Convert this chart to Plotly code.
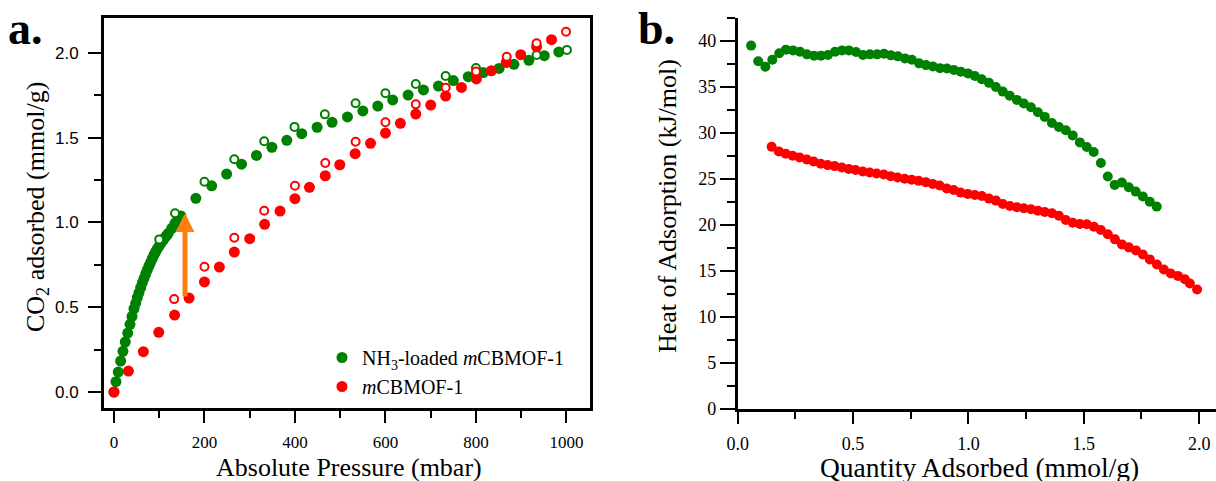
import plotly.graph_objects as go

# ---------------- Panel a: CO2 isotherms ----------------
nh3_ads_p = [0, 4.4, 9.5, 14.8, 19.9, 25.0, 30.3, 35.4, 39.8, 44.2,
             48.0, 51.5, 55.2, 59.0, 62.5, 66.3, 70.1, 73.6, 77.3, 81.1,
             84.6, 88.4, 92.2, 96, 100, 104, 108, 112, 116, 120,
             127.5, 135, 141, 148, 181, 216, 249, 282, 315, 349,
             382, 415, 449, 482, 516, 550, 583, 616, 650, 684,
             717, 750, 783, 816, 851, 884, 917, 951, 983]
nh3_ads_q = [0, .061, .118, .183, .240, .295, .348, .399, .446, .491,
             .523, .556, .585, .615, .643, .670, .696, .719, .743, .765,
             .786, .808, .827, .846, .862, .878, .893, .908, .922, .936,
             .965, .995, 1.018, 1.038, 1.142, 1.216, 1.285, 1.343, 1.395, 1.443,
             1.484, 1.523, 1.561, 1.590, 1.622, 1.657, 1.686, 1.722, 1.751, 1.781,
             1.804, 1.836, 1.859, 1.883, 1.908, 1.932, 1.956, 1.983, 2.005]
nh3_des_p = [100, 135, 200, 266, 332, 399, 466, 534, 600, 667, 733, 800, 867, 934, 1001]
nh3_des_q = [.900, 1.054, 1.240, 1.372, 1.478, 1.563, 1.637, 1.702, 1.761, 1.816,
             1.863, 1.910, 1.950, 1.987, 2.017]
mof_ads_p = [0, 32, 65, 99, 134, 166, 200, 233, 266, 300, 333, 367, 400, 432, 467,
             499, 533, 567, 600, 633, 667, 700, 733, 768, 801, 834, 867, 899, 934, 967]
mof_ads_q = [0, .124, .238, .352, .454, .554, .649, .737, .825, .904, .989, 1.067, 1.140,
             1.207, 1.275, 1.340, 1.405, 1.466, 1.527, 1.584, 1.639, 1.692, 1.745, 1.796,
             1.846, 1.894, 1.942, 1.989, 2.036, 2.077]
mof_des_p = [133, 200, 266, 332, 400, 467, 534, 600, 667, 733, 800, 868, 934, 999]
mof_des_q = [.548, .739, .910, 1.069, 1.216, 1.350, 1.476, 1.590, 1.696, 1.794,
             1.889, 1.977, 2.056, 2.124]

arrow_p = 157
arrow_from_q = 0.554
arrow_to_q = 1.054

# ---------------- Panel b: heat of adsorption ----------------
nh3_heat_x = [0.058, 0.089, 0.120, 0.150, 0.180, 0.209, 0.240, 0.270, 0.300, 0.331,
              0.361, 0.391, 0.422, 0.452, 0.482, 0.513, 0.543, 0.573, 0.604, 0.634,
              0.664, 0.694, 0.725, 0.755, 0.786, 0.816, 0.846, 0.877, 0.907, 0.937,
              0.967, 0.998, 1.028, 1.058, 1.089, 1.119, 1.149, 1.179, 1.210, 1.240,
              1.271, 1.301, 1.331, 1.362, 1.392, 1.422, 1.452, 1.483, 1.513, 1.543,
              1.574, 1.604, 1.634, 1.665, 1.695, 1.725, 1.756, 1.786, 1.816]
nh3_heat_y = [39.5, 37.8, 37.2, 37.97, 38.66, 39.06, 38.98, 38.84, 38.55, 38.41,
              38.41, 38.47, 38.84, 38.98, 38.98, 38.80, 38.47, 38.55, 38.55, 38.62,
              38.44, 38.33, 38.11, 37.97, 37.57, 37.38, 37.24, 37.05, 37.02, 36.84,
              36.66, 36.48, 36.2, 35.85, 35.45, 35.0, 34.5, 34.05, 33.6, 33.2,
              32.8, 32.26, 31.75, 31.09, 30.66, 30.29, 29.74, 28.98, 28.48, 27.93,
              26.73, 25.27, 24.36, 24.62, 24.11, 23.63, 23.09, 22.54, 22.0]
mof_heat_x = [0.147, 0.178, 0.208, 0.238, 0.268, 0.299, 0.329, 0.360, 0.390, 0.420,
              0.451, 0.481, 0.511, 0.542, 0.572, 0.602, 0.633, 0.663, 0.693, 0.724,
              0.754, 0.784, 0.815, 0.845, 0.875, 0.906, 0.936, 0.966, 0.997, 1.028,
              1.058, 1.089, 1.119, 1.149, 1.180, 1.210, 1.240, 1.271, 1.301, 1.331,
              1.362, 1.392, 1.422, 1.452, 1.483, 1.513, 1.544, 1.574, 1.604, 1.635,
              1.665, 1.695, 1.726, 1.756, 1.786, 1.817, 1.847, 1.877, 1.908, 1.938,
              1.960, 1.991]
mof_heat_y = [28.5, 28.0, 27.75, 27.53, 27.35, 27.13, 26.9, 26.65, 26.51, 26.4,
              26.25, 26.1, 25.97, 25.81, 25.7, 25.6, 25.49, 25.31, 25.16, 25.02,
              24.91, 24.8, 24.66, 24.47, 24.29, 23.96, 23.8, 23.52, 23.38, 23.27,
              23.16, 22.87, 22.65, 22.29, 22.07, 21.93, 21.82, 21.71, 21.56, 21.42,
              21.27, 21.01, 20.55, 20.25, 20.11, 20.08, 19.81, 19.45, 18.99, 18.44,
              17.89, 17.57, 17.24, 16.8, 16.26, 15.71, 15.17, 14.73, 14.47, 14.11,
              13.64, 12.98]

GREEN = "#008000"
RED = "#FF0000"
SERIF = "Liberation Serif, Times New Roman, serif"
SANS = "Liberation Sans, Arial, sans-serif"

fig = go.Figure()
fig.add_trace(go.Scatter(x=nh3_ads_p, y=nh3_ads_q, mode="markers", name="NH<sub>3</sub>-loaded <i>m</i>CBMOF-1",
                         marker=dict(color=GREEN, size=11), legendgroup="g", xaxis="x", yaxis="y"))
fig.add_trace(go.Scatter(x=nh3_des_p, y=nh3_des_q, mode="markers", showlegend=False,
                         marker=dict(color="white", size=8, line=dict(color=GREEN, width=2)),
                         xaxis="x", yaxis="y"))
fig.add_trace(go.Scatter(x=mof_ads_p, y=mof_ads_q, mode="markers", name="<i>m</i>CBMOF-1",
                         marker=dict(color=RED, size=11), legendgroup="r", xaxis="x", yaxis="y"))
fig.add_trace(go.Scatter(x=mof_des_p, y=mof_des_q, mode="markers", showlegend=False,
                         marker=dict(color="white", size=8, line=dict(color=RED, width=2)),
                         xaxis="x", yaxis="y"))
fig.add_trace(go.Scatter(x=nh3_heat_x, y=nh3_heat_y, mode="markers", showlegend=False,
                         marker=dict(color=GREEN, size=10), xaxis="x2", yaxis="y2"))
fig.add_trace(go.Scatter(x=mof_heat_x, y=mof_heat_y, mode="markers", showlegend=False,
                         marker=dict(color=RED, size=10), xaxis="x2", yaxis="y2"))

axis_common = dict(showgrid=False, zeroline=False, showline=True, linecolor="black",
                   ticks="outside", tickcolor="black", tickwidth=2, automargin=False)

def px_x(px):
    return px / 1216

def px_y(py):
    return (481 - py) / 481

fig.update_layout(
    width=1216, height=481,
    margin=dict(l=0, r=0, t=0, b=0, autoexpand=False),
    paper_bgcolor="white", plot_bgcolor="white",
    xaxis=dict(**axis_common, domain=[px_x(104), px_x(590)], range=[-22, 1052],
               tick0=0, dtick=200, ticklen=12, linewidth=3, mirror=True, ticklabelstandoff=5,
               minor=dict(dtick=100, ticklen=7, tickwidth=2, tickcolor="black", ticks="outside"),
               tickfont=dict(family=SERIF, size=17, color="black"),
               anchor="y"),
    yaxis=dict(**axis_common, domain=[px_y(408), px_y(18)], range=[-0.094, 2.205],
               tick0=0, dtick=0.5, tickformat=".1f", ticklen=13, linewidth=3, mirror=True,
               ticklabelstandoff=6,
               minor=dict(dtick=0.25, ticklen=7, tickwidth=2, tickcolor="black", ticks="outside"),
               tickfont=dict(family=SANS, size=17, color="black"),
               anchor="x"),
    xaxis2=dict(**axis_common, domain=[px_x(737.7), 1.0], range=[0, 2.073],
                tick0=0, dtick=0.5, tickformat=".1f", ticklen=12, linewidth=2.5, ticklabelstandoff=5,
                minor=dict(dtick=0.25, ticklen=7, tickwidth=2, tickcolor="black", ticks="outside"),
                tickfont=dict(family=SERIF, size=18, color="black"),
                anchor="y2"),
    yaxis2=dict(**axis_common, domain=[px_y(409), px_y(18)], range=[0, 42.5],
                tick0=0, dtick=5, ticklen=15, linewidth=2.5,
                minor=dict(dtick=2.5, ticklen=8, tickwidth=2, tickcolor="black", ticks="outside"),
                tickfont=dict(family=SERIF, size=18, color="black"),
                anchor="x2"),
    legend=dict(x=px_x(322), y=px_y(338), xanchor="left", yanchor="top",
                font=dict(family=SERIF, size=20, color="black"), bgcolor="rgba(0,0,0,0)",
                traceorder="normal"),
    annotations=[
        dict(x=arrow_p, y=arrow_to_q, ax=arrow_p, ay=arrow_from_q, xref="x", yref="y",
             axref="x", ayref="y", showarrow=True, arrowhead=2, arrowsize=0.75, arrowwidth=5,
             arrowcolor="#FF7F0E", text=""),
        dict(x=px_x(6), y=px_y(28), xref="paper", yref="paper", xanchor="left", yanchor="middle",
             text="<b>a.</b>", showarrow=False, font=dict(family=SERIF, size=46, color="black")),
        dict(x=px_x(636), y=px_y(28), xref="paper", yref="paper", xanchor="left", yanchor="middle",
             text="<b>b.</b>", showarrow=False, font=dict(family=SERIF, size=46, color="black")),
        dict(x=px_x(37), y=px_y(207), xref="paper", yref="paper", xanchor="center", yanchor="middle",
             text="CO<sub>2</sub> adsorbed (mmol/g)", textangle=-90, showarrow=False,
             font=dict(family=SERIF, size=26, color="black")),
        dict(x=px_x(349), y=px_y(467), xref="paper", yref="paper", xanchor="center", yanchor="middle",
             text="Absolute Pressure (mbar)", showarrow=False,
             font=dict(family=SERIF, size=26, color="black")),
        dict(x=px_x(667), y=px_y(206), xref="paper", yref="paper", xanchor="center", yanchor="middle",
             text="Heat of Adsorption (kJ/mol)", textangle=-90, showarrow=False,
             font=dict(family=SERIF, size=26, color="black")),
        dict(x=px_x(979), y=px_y(467), xref="paper", yref="paper", xanchor="center", yanchor="middle",
             text="Quantity Adsorbed (mmol/g)", showarrow=False,
             font=dict(family=SERIF, size=27.5, color="black")),
    ],
)

fig.write_html("out.html", config={"displayModeBar": False},
               post_script="document.body.style.margin='0px';document.body.style.overflow='hidden';")
